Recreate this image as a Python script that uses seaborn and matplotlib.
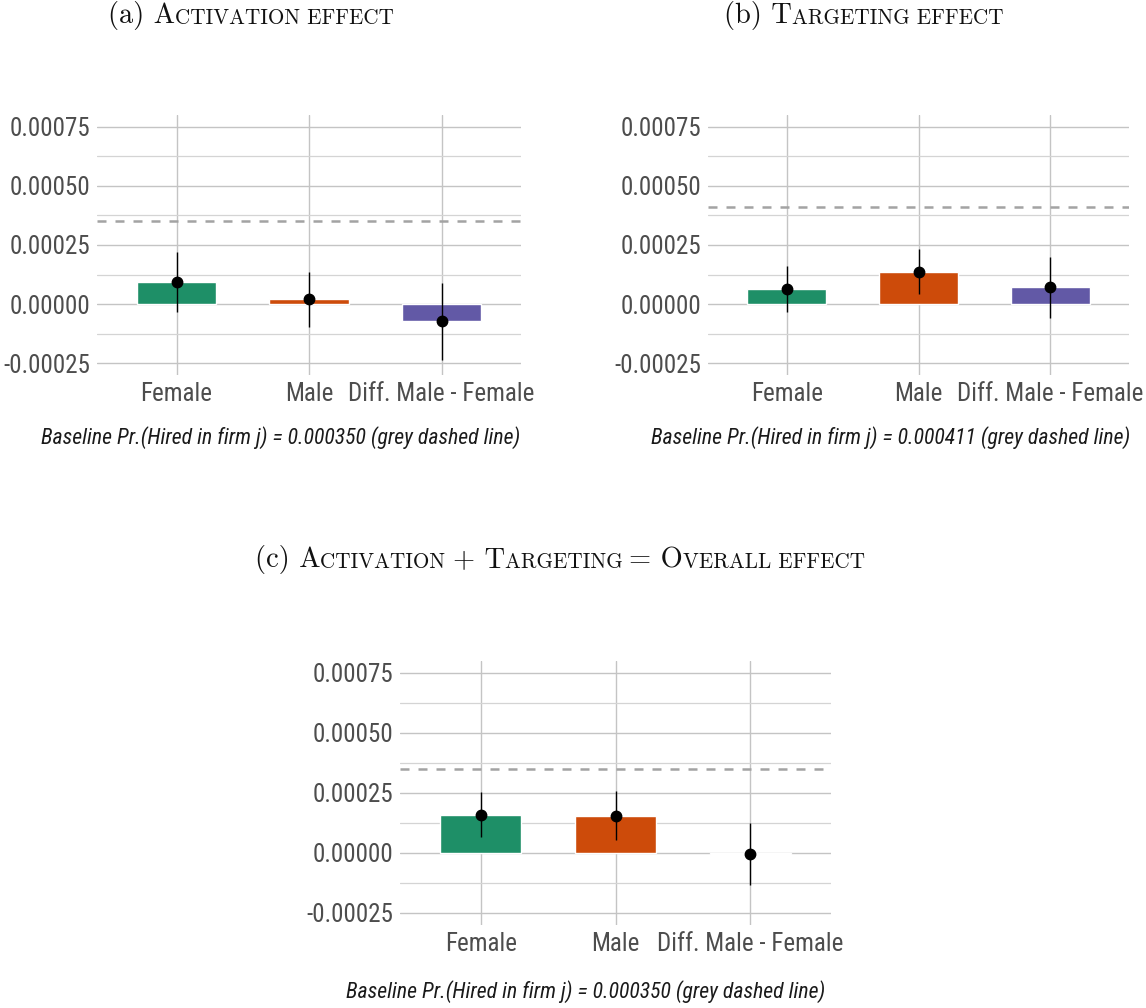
import numpy as np
import pandas as pd
import matplotlib
matplotlib.use("Agg")
import matplotlib.pyplot as plt
from matplotlib import font_manager as fm
from matplotlib.offsetbox import TextArea, HPacker, AnnotationBbox
import seaborn as sns

# ---------------- data ----------------
categories = ["Female", "Male", "Diff. Male - Female"]
colors = ["#1E8F67", "#CD4B0A", "#6259A6"]

act_est = [0.0000920, 0.0000200, -0.0000736]
act_lo = [-0.0000340, -0.0000976, -0.000238]
act_hi = [0.000221, 0.000134, 0.0000891]
act_base = 0.000350

tar_est = [0.0000651, 0.000137, 0.0000708]
tar_lo = [-0.0000325, 0.0000425, -0.0000580]
tar_hi = [0.000163, 0.000231, 0.000200]
tar_base = 0.000411

all_est = [0.000159, 0.000156, -0.0000028]
all_lo = [0.0000650, 0.0000526, -0.000133]
all_hi = [0.000253, 0.000259, 0.000126]
all_base = 0.000350

y_ticks = [-0.00025, 0.0, 0.00025, 0.0005, 0.00075]
y_ticklabels = ["-0.00025", "0.00000", "0.00025", "0.00050", "0.00075"]

captions = [
    "Baseline Pr.(Hired in firm j) = 0.000350 (grey dashed line)",
    "Baseline Pr.(Hired in firm j) = 0.000411 (grey dashed line)",
    "Baseline Pr.(Hired in firm j) = 0.000350 (grey dashed line)",
]

# ---------------- style ----------------
sns.set_theme(style="white")
ttf = fm.fontManager.ttflist
names = {f.name for f in ttf}
cond_family = None
stretch = "normal"
for cand in ["Roboto Condensed", "Liberation Sans Narrow", "Arial Narrow",
             "Open Sans Condensed", "Noto Sans Condensed"]:
    if cand in names:
        cond_family = cand
        break
if cond_family is None:
    for fam in ["Roboto", "Noto Sans", "Open Sans", "Inter"]:
        if any(f.name == fam and str(f.stretch) != "normal" for f in ttf):
            cond_family = fam
            stretch = "condensed"
            break
if cond_family is None:
    cond_family = "Roboto"
    tick_size, cap_size = 14.5, 13.3
else:
    tick_size, cap_size = 18, 15.7

plt.rcParams["font.family"] = [cond_family, "DejaVu Sans"]
plt.rcParams["font.stretch"] = stretch
serif = ["cmr10", "DejaVu Serif"]

W, H = 1146, 1008
fig = plt.figure(figsize=(W / 100, H / 100), dpi=100)


def axes_px(x0, x1, y0, y1):
    return fig.add_axes([x0 / W, 1 - y1 / H, (x1 - x0) / W, (y1 - y0) / H])


def panel(ax, est, lo, hi, base):
    df = pd.DataFrame({"cat": categories, "est": est})
    sns.barplot(data=df, x="cat", y="est", hue="cat", palette=colors,
                order=categories, hue_order=categories, width=0.6,
                saturation=1, legend=False, ax=ax, zorder=3, errorbar=None)
    pos = np.arange(len(categories))
    est_a = np.array(est)
    yerr = [est_a - np.array(lo), np.array(hi) - est_a]
    ax.errorbar(pos, est_a, yerr=yerr, fmt="o", color="black", ms=7.5,
                elinewidth=1.0, capsize=0, zorder=5)
    ax.axhline(base, color="#A3A3A3", lw=1.8, ls=(0, (3.6, 3.6)), zorder=4)
    ax.set_xlim(-0.6, 2.6)
    ax.set_ylim(-0.0003, 0.0008)
    ax.set_yticks(y_ticks)
    ax.set_yticklabels(y_ticklabels)
    ax.set_yticks([-0.000125, 0.000125, 0.000375, 0.000625], minor=True)
    ax.set_xlabel("")
    ax.set_ylabel("")
    for s in ax.spines.values():
        s.set_visible(False)
    ax.grid(True, which="major", axis="both", color="#C4C4C4", lw=1.0, zorder=0)
    ax.grid(True, which="minor", axis="y", color="#D4D4D4", lw=0.9, zorder=0)
    ax.set_axisbelow(True)
    ax.tick_params(axis="both", which="both", length=0, labelsize=tick_size,
                   labelcolor="#4D4D4D", pad=5)


ax_a = axes_px(97, 521, 115, 375)
panel(ax_a, act_est, act_lo, act_hi, act_base)
ax_b = axes_px(708, 1129, 115, 375)
panel(ax_b, tar_est, tar_lo, tar_hi, tar_base)
ax_c = axes_px(400, 831, 661, 925)
panel(ax_c, all_est, all_lo, all_hi, all_base)

# captions
for (cx, cy), txt in zip([(281, 438), (891, 438), (586, 992)], captions):
    fig.text(cx / W, 1 - cy / H, txt, ha="center", va="center", fontsize=cap_size,
             style="italic", color="#1A1A1A")


# small-caps titles
def smallcaps_title(parts, cx, cy, big=20.5, small=15.2):
    boxes = []
    for text, is_big in parts:
        boxes.append(TextArea(text, textprops=dict(
            fontsize=big if is_big else small, family=serif, color="#111111",
            stretch="normal")))
    pack = HPacker(children=boxes, align="baseline", pad=0, sep=0)
    ab = AnnotationBbox(pack, (cx / W, 1 - cy / H), xycoords="figure fraction",
                        frameon=False, box_alignment=(0.5, 0.5), pad=0)
    fig.add_artist(ab)


smallcaps_title([("(a)\u00a0A", True), ("CTIVATION\u00a0EFFECT", False)], 251, 16)
smallcaps_title([("(b)\u00a0T", True), ("ARGETING\u00a0EFFECT", False)], 864, 16)
smallcaps_title([("(c)\u00a0A", True), ("CTIVATION\u00a0", False),
                 ("+\u00a0T", True), ("ARGETING\u00a0", False),
                 ("=\u00a0O", True), ("VERALL\u00a0EFFECT", False)], 560, 560)

fig.savefig("out.png", dpi=100)
